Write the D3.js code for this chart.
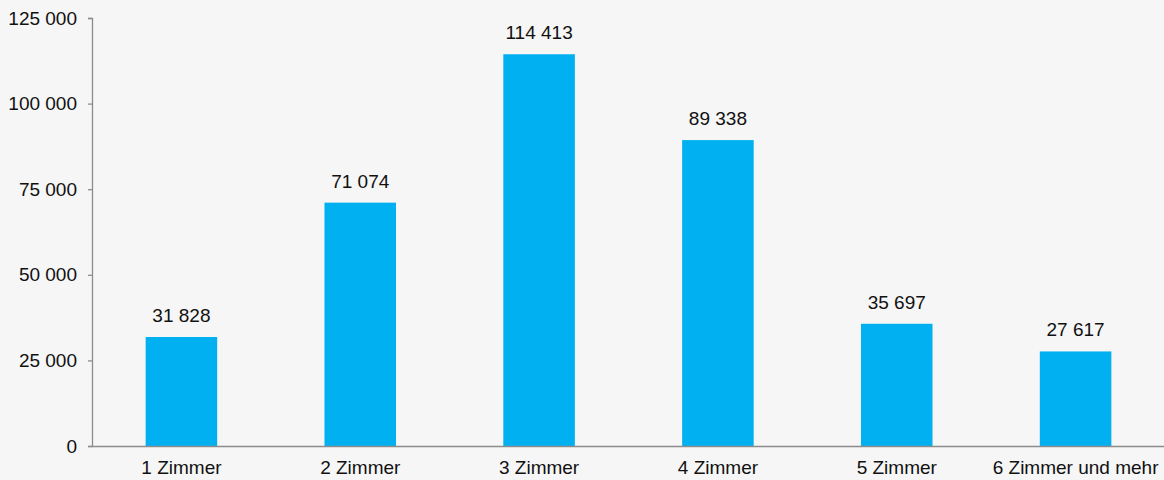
<!DOCTYPE html>
<html>
<head>
<meta charset="utf-8">
<script src="https://cdn.jsdelivr.net/npm/d3@7/dist/d3.min.js"></script>
<style>
  html, body { margin: 0; padding: 0; background: #f6f6f6; }
  svg { display: block; }
  text { font-family: "Liberation Sans", Arial, sans-serif; fill: #111; }
</style>
</head>
<body>
<svg id="chart" width="1164" height="480"></svg>
<script>
// Wohnungen nach Anzahl Zimmer
const categories = ["1 Zimmer", "2 Zimmer", "3 Zimmer", "4 Zimmer", "5 Zimmer", "6 Zimmer und mehr"];
const values = [31828, 71074, 114413, 89338, 35697, 27617];
const yTicks = [0, 25000, 50000, 75000, 100000, 125000];

const width = 1164, height = 480;
const margin = { top: 18, right: -1, bottom: 34, left: 92 };
const fontSize = 19;

const svg = d3.select("#chart");
svg.append("rect").attr("width", width).attr("height", height).attr("fill", "#f6f6f6");

const x = d3.scaleBand()
  .domain(categories)
  .range([margin.left, width - margin.right])
  .paddingInner(0.6)
  .paddingOuter(0.3);

const y = d3.scaleLinear()
  .domain([0, 125000])
  .range([height - margin.bottom, margin.top]);

const fmt = v => d3.format(",")(v).replace(/,/g, " ");

// bars
svg.append("g")
  .selectAll("rect")
  .data(values)
  .join("rect")
  .attr("x", (d, i) => x(categories[i]))
  .attr("y", d => y(d))
  .attr("width", x.bandwidth())
  .attr("height", d => y(0) - y(d))
  .attr("fill", "#00b0f0");

// value labels
svg.append("g")
  .selectAll("text")
  .data(values)
  .join("text")
  .attr("x", (d, i) => x(categories[i]) + x.bandwidth() / 2)
  .attr("y", d => y(d) - 15)
  .attr("text-anchor", "middle")
  .attr("font-size", fontSize)
  .text(d => fmt(d));

// y axis
const yAxis = svg.append("g")
  .attr("transform", `translate(${margin.left},0)`)
  .call(d3.axisLeft(y).tickValues(yTicks).tickSize(4).tickPadding(11).tickFormat(fmt));
yAxis.select(".domain").attr("stroke", "#8c8c8c").attr("stroke-width", 1.3);
yAxis.selectAll(".tick line").attr("stroke", "#8c8c8c").attr("stroke-width", 1.3);
yAxis.selectAll(".tick text").attr("font-size", fontSize).attr("font-family", "Liberation Sans, Arial, sans-serif").attr("fill", "#111");

// x axis
const xAxis = svg.append("g")
  .attr("transform", `translate(0,${y(0)})`)
  .call(d3.axisBottom(x).tickSize(0).tickPadding(15));
xAxis.select(".domain").attr("stroke", "#8c8c8c").attr("stroke-width", 1.3);
xAxis.selectAll(".tick text").attr("font-size", fontSize).attr("font-family", "Liberation Sans, Arial, sans-serif").attr("fill", "#111");
</script>
</body>
</html>
